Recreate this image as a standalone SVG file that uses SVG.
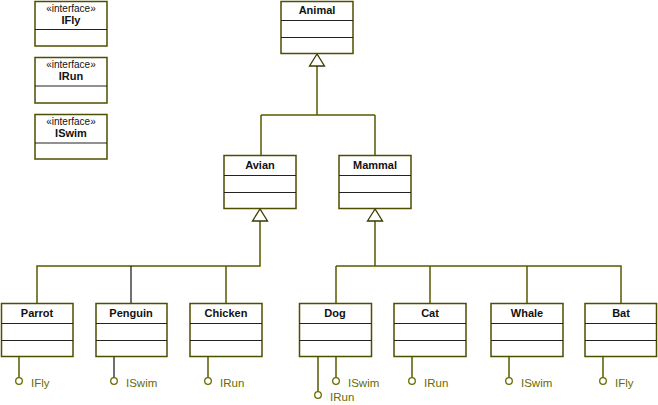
<svg xmlns="http://www.w3.org/2000/svg" width="658" height="405" viewBox="0 0 658 405">
<style>
.box{fill:#ffffff;stroke:#4e4e00;stroke-width:1.5}
.div{stroke:#222;stroke-width:1}
.name{font-family:"Liberation Sans",Arial,sans-serif;font-size:11px;font-weight:bold;fill:#111;text-anchor:middle}
.st{font-family:"Liberation Sans",Arial,sans-serif;font-size:10px;fill:#111;text-anchor:middle}
.con{fill:none;stroke:#5a5a00;stroke-width:1.5}
.conb{fill:none;stroke:#111;stroke-width:1.2}
.lol{fill:#fff;stroke:#6a6a00;stroke-width:1.3}
.lbl{font-family:"Liberation Sans",Arial,sans-serif;font-size:11.5px;fill:#6a6a00}
.tri{fill:#fff;stroke:#3a3a00;stroke-width:1.3}
</style>
<rect width="658" height="405" fill="#fff"/>
<g id="connectors">
<path class="con" d="M317,66 V115 M261,115 H375 M261,115 V155 M375,115 V155"/>
<path class="con" d="M260,221 V266 H37 V303 M226,266 V303"/>
<path class="conb" d="M131,266 V303"/>
<path class="con" d="M375,221 V266 M336,266 H621 V303 M336,266 V303 M430,266 V303 M527,266 V303"/>
<polygon class="tri" points="317,54 309.5,66 324.5,66"/>
<polygon class="tri" points="260,209 252.5,221 267.5,221"/>
<polygon class="tri" points="375,209 367.5,221 382.5,221"/>
<path class="con" d="M19,357 V378"/>
<path class="conb" d="M114,357 V378"/>
<path class="con" d="M208,357 V378"/>
<path class="con" d="M318,357 V392 M336,357 V378"/>
<path class="con" d="M412,357 V378"/>
<path class="con" d="M509,357 V378"/>
<path class="con" d="M603,357 V378"/>
<circle class="lol" cx="19" cy="381" r="3.3"/>
<circle class="lol" cx="114" cy="381" r="3.3"/>
<circle class="lol" cx="208" cy="381" r="3.3"/>
<circle class="lol" cx="318" cy="395" r="3.3"/>
<circle class="lol" cx="336" cy="381" r="3.3"/>
<circle class="lol" cx="412" cy="381" r="3.3"/>
<circle class="lol" cx="509" cy="381" r="3.3"/>
<circle class="lol" cx="603" cy="381" r="3.3"/>
<text class="lbl" x="31" y="387">IFly</text>
<text class="lbl" x="126" y="387">ISwim</text>
<text class="lbl" x="220" y="387">IRun</text>
<text class="lbl" x="348" y="387">ISwim</text>
<text class="lbl" x="330" y="401">IRun</text>
<text class="lbl" x="424" y="387">IRun</text>
<text class="lbl" x="521" y="387">ISwim</text>
<text class="lbl" x="615" y="387">IFly</text>
</g>
<g id="IFly">
<rect class="box" x="35" y="1.5" width="72" height="44.5"/>
<line class="div" x1="35" y1="29.5" x2="107" y2="29.5"/>
<text class="st" x="71" y="12">«interface»</text>
<text class="name" x="71" y="24">IFly</text>
</g>
<g id="IRun">
<rect class="box" x="35" y="57.5" width="72" height="45.5"/>
<line class="div" x1="35" y1="86" x2="107" y2="86"/>
<text class="st" x="71" y="68">«interface»</text>
<text class="name" x="71" y="80">IRun</text>
</g>
<g id="ISwim">
<rect class="box" x="35" y="114.5" width="72" height="44.5"/>
<line class="div" x1="35" y1="143" x2="107" y2="143"/>
<text class="st" x="71" y="125">«interface»</text>
<text class="name" x="71" y="137">ISwim</text>
</g>
<g id="Animal">
<rect class="box" x="281" y="1.5" width="72" height="52"/>
<line class="div" x1="281" y1="20.5" x2="353" y2="20.5"/>
<line class="div" x1="281" y1="37.5" x2="353" y2="37.5"/>
<text class="name" x="317" y="14">Animal</text>
</g>
<g id="Avian">
<rect class="box" x="224" y="155.5" width="72" height="53"/>
<line class="div" x1="224" y1="175.5" x2="296" y2="175.5"/>
<line class="div" x1="224" y1="192.5" x2="296" y2="192.5"/>
<text class="name" x="260" y="169">Avian</text>
</g>
<g id="Mammal">
<rect class="box" x="339" y="155.5" width="72" height="53"/>
<line class="div" x1="339" y1="175.5" x2="411" y2="175.5"/>
<line class="div" x1="339" y1="192.5" x2="411" y2="192.5"/>
<text class="name" x="375" y="169">Mammal</text>
</g>
<g id="Parrot">
<rect class="box" x="1.5" y="303.5" width="71.5" height="53"/>
<line class="div" x1="1.5" y1="323.5" x2="73" y2="323.5"/>
<line class="div" x1="1.5" y1="340.5" x2="73" y2="340.5"/>
<text class="name" x="37" y="317">Parrot</text>
</g>
<g id="Penguin">
<rect class="box" x="96" y="303.5" width="71" height="53"/>
<line class="div" x1="96" y1="323.5" x2="167" y2="323.5"/>
<line class="div" x1="96" y1="340.5" x2="167" y2="340.5"/>
<text class="name" x="131" y="317">Penguin</text>
</g>
<g id="Chicken">
<rect class="box" x="190" y="303.5" width="72" height="53"/>
<line class="div" x1="190" y1="323.5" x2="262" y2="323.5"/>
<line class="div" x1="190" y1="340.5" x2="262" y2="340.5"/>
<text class="name" x="226" y="317">Chicken</text>
</g>
<g id="Dog">
<rect class="box" x="299.5" y="303.5" width="72" height="53"/>
<line class="div" x1="299.5" y1="323.5" x2="371.5" y2="323.5"/>
<line class="div" x1="299.5" y1="340.5" x2="371.5" y2="340.5"/>
<text class="name" x="335" y="317">Dog</text>
</g>
<g id="Cat">
<rect class="box" x="394" y="303.5" width="72" height="53"/>
<line class="div" x1="394" y1="323.5" x2="466" y2="323.5"/>
<line class="div" x1="394" y1="340.5" x2="466" y2="340.5"/>
<text class="name" x="430" y="317">Cat</text>
</g>
<g id="Whale">
<rect class="box" x="491" y="303.5" width="72" height="53"/>
<line class="div" x1="491" y1="323.5" x2="563" y2="323.5"/>
<line class="div" x1="491" y1="340.5" x2="563" y2="340.5"/>
<text class="name" x="527" y="317">Whale</text>
</g>
<g id="Bat">
<rect class="box" x="585" y="303.5" width="71.5" height="53"/>
<line class="div" x1="585" y1="323.5" x2="656.5" y2="323.5"/>
<line class="div" x1="585" y1="340.5" x2="656.5" y2="340.5"/>
<text class="name" x="621" y="317">Bat</text>
</g>
</svg>
